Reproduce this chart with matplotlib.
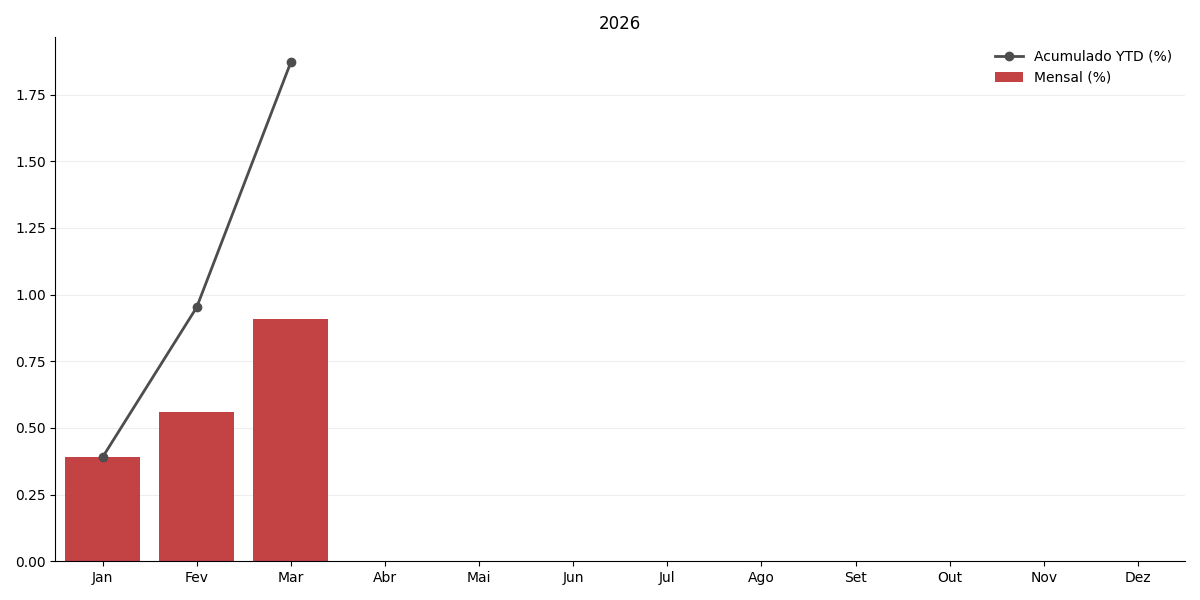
import matplotlib
matplotlib.use("Agg")
import matplotlib.pyplot as plt
import numpy as np

meses = ['Jan', 'Fev', 'Mar', 'Abr', 'Mai', 'Jun', 'Jul', 'Ago', 'Set', 'Out', 'Nov', 'Dez']
mensal = [0.39, 0.56, 0.91]
acumulado = [0.39, 0.952, 1.871]
ano = '2026'

fig, ax = plt.subplots(figsize=(12, 6), dpi=100)
x = np.arange(len(meses))

ax.bar(x[:len(mensal)], mensal, width=0.8, color='#c0393b', alpha=0.95,
       label='Mensal (%)', zorder=2)
ax.plot(x[:len(acumulado)], acumulado, marker='o', color='#4d4d4d', linewidth=2,
        markersize=6, label='Acumulado YTD (%)', zorder=3)

ax.set_xticks(x)
ax.set_xticklabels(meses)
ax.set_xlim(-0.5, len(meses) - 0.5)
ax.set_ylim(bottom=0)
ax.set_title(ano)
ax.yaxis.grid(True, color='#eeeeee', linewidth=0.8, zorder=0)
ax.set_axisbelow(True)
ax.spines['top'].set_visible(False)
ax.spines['right'].set_visible(False)
ax.legend(loc='upper right', frameon=False)

plt.tight_layout()
plt.savefig('out.png')
